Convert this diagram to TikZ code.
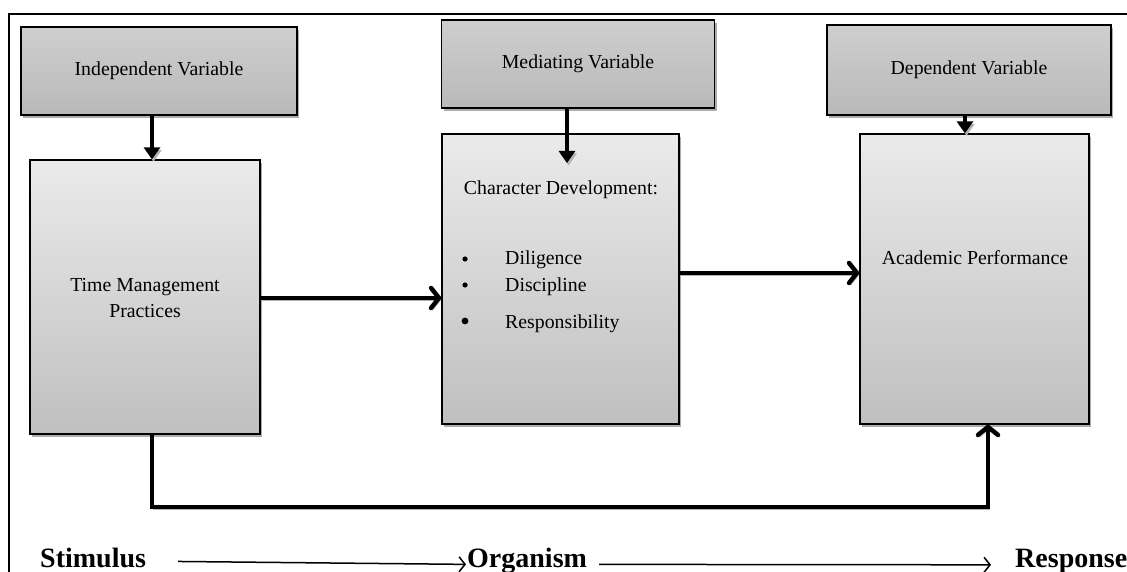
\documentclass[tikz,border=0pt]{standalone}
\usepackage{fontspec}
\setmainfont{Liberation Serif}
\usetikzlibrary{arrows.meta,shadows,calc}
\begin{document}
\begin{tikzpicture}[x=1pt,y=-1pt,
  boxtxt/.style={font=\fontsize{19.8}{26}\selectfont},
  shad/.style={drop shadow={shadow xshift=2pt,shadow yshift=-3pt,fill=gray!65,opacity=1}},
  bigbox/.style={draw,line width=1.4pt,inner sep=0pt,top color=gray!16,bottom color=gray!50,shad},
  varbox/.style={draw,line width=1.4pt,inner sep=0pt,top color=gray!38,middle color=gray!16,bottom color=gray!55,shad,boxtxt},
  thick arrow/.style={line width=4.5pt,preaction={draw=gray!60,transform canvas={shift={(1.5pt,-2.5pt)}}}},
  downtip/.style={-{Triangle[length=12pt,width=16pt]}},
  bartip/.style={-{Straight Barb[length=8pt,width=20pt,line width=4.5pt,round]}},
  sor/.style={line width=1.5pt,-{Straight Barb[length=6pt,width=15pt,line width=1.5pt]}},
  sortxt/.style={font=\fontsize{28}{30}\selectfont\bfseries,inner sep=0pt}
]
\useasboundingbox (0,0) rectangle (1127,572);
\fill[white] (0,0) rectangle (1127,572);
% frame
\draw[line width=2pt] (9,580) -- (9,14) -- (1140,14);

% boxes
\node[varbox,minimum width=276pt,minimum height=88pt] (iv) at (159,71) {Independent Variable};
\node[varbox,minimum width=273pt,minimum height=88pt] (mv) at (578,64) {Mediating Variable};
\node[varbox,minimum width=284pt,minimum height=90pt] (dv) at (969,70) {Dependent Variable};

\node[bigbox,minimum width=230pt,minimum height=274pt] (tm) at (145,297) {};
\node[bigbox,minimum width=237pt,minimum height=290pt] (cd) at (560.5,279) {};
\node[bigbox,minimum width=229pt,minimum height=290pt] (ap) at (974.5,279) {};

% texts
\node[boxtxt,align=center] (tmt) at (145,298) {Time Management\\Practices};
\node[boxtxt] (cdt) at (561,190) {Character Development:};
\node[boxtxt,anchor=base west,inner sep=0pt] (d1) at (505,265) {Diligence};
\node[boxtxt,anchor=base west,inner sep=0pt] (d2) at (505,291) {Discipline};
\node[boxtxt,anchor=base west,inner sep=0pt] (d3) at (505,328) {Responsibility};
\fill (465,259) circle (2.6pt);
\fill (465,285) circle (2.6pt);
\fill (465,321) circle (3.4pt);
\node[boxtxt] (apt) at (975,258) {Academic Performance};

% connectors
\coordinate (c1) at (152,0);
\coordinate (c2) at (567,163);
\coordinate (c3) at (965,0);
\coordinate (c4) at (988,507);
\draw[thick arrow,downtip] (iv.south -| c1) -- (tm.north -| c1);
\draw[thick arrow,downtip] (mv.south -| c2) -- (c2);
\draw[thick arrow,downtip] (dv.south -| c3) -- (ap.north -| c3);
\draw[thick arrow,bartip] ($(tm.east)+(0,1)$) -- ($(cd.west)+(0,19)$);
\draw[thick arrow,bartip] ($(cd.east)+(0,-6)$) -- ($(ap.west)+(0,-6)$);
\draw[thick arrow,bartip] (tm.south -| c1) |- (c4) -- (ap.south -| c4);

% S-O-R
\node[sortxt,anchor=base west] (st) at (40,567) {Stimulus};
\node[sortxt,anchor=base west] (or) at (467,567) {Organism};
\node[sortxt,anchor=base west] (re) at (1015,567) {Response};
\draw[sor] ($(st.east)+(32,4)$) -- ($(or.west)+(-1,4)$);
\draw[sor] ($(or.east)+(12,4)$) -- ($(re.west)+(-24,4)$);
\end{tikzpicture}
\end{document}
